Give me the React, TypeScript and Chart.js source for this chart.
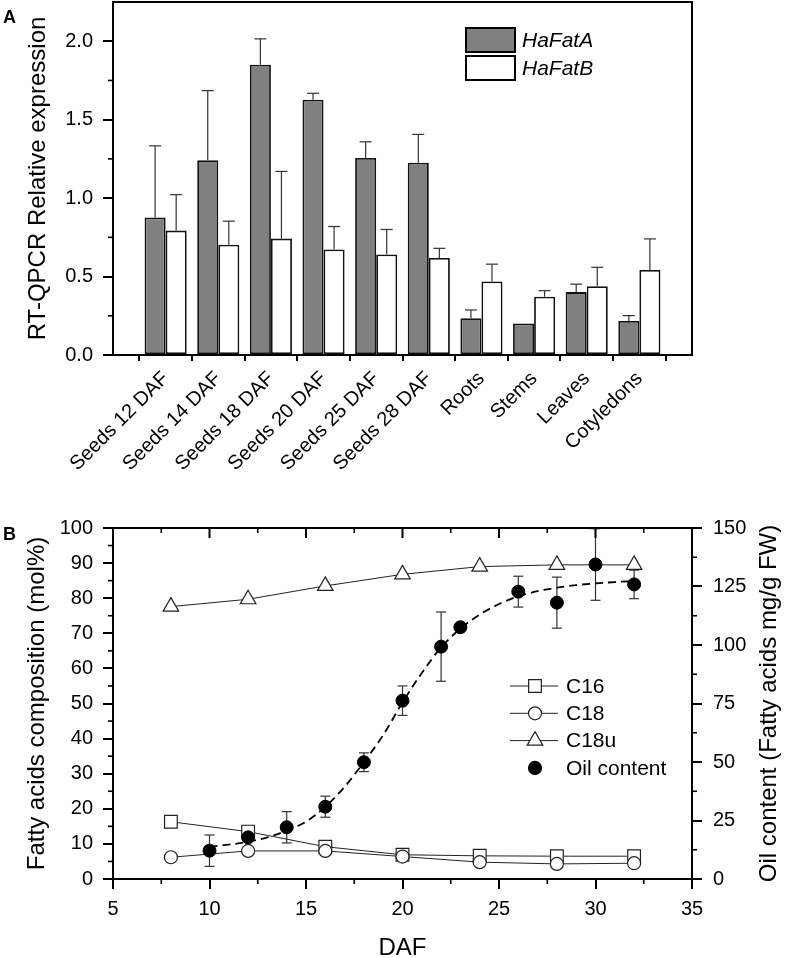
import React, { useEffect, useRef } from "react";
import { Chart, registerables } from "chart.js";
Chart.register(...registerables);

const FONT = '"Liberation Sans", Arial, Helvetica, sans-serif';

// ---------- Panel A data ----------
const tissues = [
  "Seeds 12 DAF", "Seeds 14 DAF", "Seeds 18 DAF", "Seeds 20 DAF", "Seeds 25 DAF",
  "Seeds 28 DAF", "Roots", "Stems", "Leaves", "Cotyledons",
];
const fatA = [0.877, 1.241, 1.85, 1.627, 1.256, 1.226, 0.234, 0.201, 0.401, 0.217];
const fatAErr = [0.456, 0.444, 0.165, 0.041, 0.103, 0.18, 0.053, 0.0, 0.051, 0.034];
const fatB = [0.793, 0.703, 0.742, 0.673, 0.641, 0.619, 0.469, 0.371, 0.439, 0.542];
const fatBErr = [0.229, 0.15, 0.428, 0.146, 0.159, 0.061, 0.11, 0.039, 0.12, 0.198];
const yMinorA = [0.25, 0.75, 1.25, 1.75];

// ---------- Panel B data ----------
const dafFA = [8, 12, 16, 20, 24, 28, 32];
const c16 = [16.3, 13.5, 9.2, 6.9, 6.6, 6.5, 6.5];
const c18 = [6.2, 8.0, 8.0, 6.4, 4.8, 4.3, 4.5];
const c18u = [77.6, 79.7, 83.5, 86.8, 89.0, 89.5, 89.5];
const dafOil = [10, 12, 14, 16, 18, 20, 22, 23, 26, 28, 30, 32];
const oil = [12.1, 17.8, 22.1, 30.9, 49.9, 76.2, 99.3, 107.6, 122.8, 118.1, 134.4, 125.9];
const oilErr = [6.7, 5.0, 6.7, 4.5, 4.0, 6.3, 14.8, 0, 6.6, 10.9, 15.3, 6.1];
const fitX = [10, 11, 12, 13, 14, 15, 16, 17, 18, 19, 20, 21, 22, 23, 24, 25, 26, 27, 28, 29, 30, 31, 32];
const fitY = [13.8, 14.7, 15.9, 17.8, 20.7, 24.5, 30.9, 39.4, 50.0, 61.5, 75.5, 88, 99, 107, 113, 117.5, 120.8, 123, 124.5, 125.6, 126.3, 126.9, 127.3];
const xMajorB = [5, 10, 15, 20, 25, 30, 35];
const xMinorB = [7.5, 12.5, 17.5, 22.5, 27.5, 32.5];
const yMinorB = [5, 15, 25, 35, 45, 55, 65, 75, 85, 95];
const y2MinorB = [12.5, 37.5, 62.5, 87.5, 112.5, 137.5];

function vText(ctx: CanvasRenderingContext2D, text: string, x: number, y: number, font: string) {
  ctx.save();
  ctx.translate(x, y);
  ctx.rotate(-Math.PI / 2);
  ctx.font = font;
  ctx.textAlign = "center";
  ctx.textBaseline = "middle";
  ctx.fillStyle = "#000";
  ctx.fillText(text, 0, 0);
  ctx.restore();
}

function line(ctx: CanvasRenderingContext2D, x1: number, y1: number, x2: number, y2: number) {
  ctx.beginPath();
  ctx.moveTo(x1, y1);
  ctx.lineTo(x2, y2);
  ctx.stroke();
}

function drawMarker(ctx: CanvasRenderingContext2D, style: string, x: number, y: number, r: number, fill: string) {
  ctx.beginPath();
  if (style === "rect") {
    const s = Math.SQRT1_2 * r;
    ctx.rect(x - s, y - s, 2 * s, 2 * s);
  } else if (style === "triangle") {
    let rad = 0;
    ctx.moveTo(x + Math.sin(rad) * r, y - Math.cos(rad) * r);
    rad += (2 * Math.PI) / 3;
    ctx.lineTo(x + Math.sin(rad) * r, y - Math.cos(rad) * r);
    rad += (2 * Math.PI) / 3;
    ctx.lineTo(x + Math.sin(rad) * r, y - Math.cos(rad) * r);
    ctx.closePath();
  } else {
    ctx.arc(x, y, r, 0, Math.PI * 2);
  }
  ctx.fillStyle = fill;
  ctx.fill();
  ctx.stroke();
}

const tickFont = { family: FONT, size: 20 };

const pluginA = {
  id: "panelA",
  afterDatasetsDraw(chart: any) {
    const ctx = chart.ctx as CanvasRenderingContext2D;
    const y = chart.scales.y;
    ctx.save();
    ctx.strokeStyle = "#333";
    ctx.lineWidth = 1.2;
    [fatAErr, fatBErr].forEach((errs, di) => {
      const vals = di === 0 ? fatA : fatB;
      const meta = chart.getDatasetMeta(di);
      errs.forEach((e, i) => {
        if (!e) return;
        const el = meta.data[i + 1];
        const px = el.x;
        const top = y.getPixelForValue(vals[i] + e);
        const base = y.getPixelForValue(vals[i]);
        line(ctx, px, base, px, top);
        line(ctx, px - 6, top, px + 6, top);
      });
    });
    ctx.restore();
  },
  afterDraw(chart: any) {
    const ctx = chart.ctx as CanvasRenderingContext2D;
    const ca = chart.chartArea;
    const y = chart.scales.y;
    ctx.save();
    ctx.strokeStyle = "#000";
    ctx.lineWidth = 2;
    ctx.beginPath();
    ctx.moveTo(ca.left - 1, ca.top);
    ctx.lineTo(ca.right, ca.top);
    ctx.lineTo(ca.right, ca.bottom + 1);
    ctx.stroke();
    ctx.lineWidth = 1.6;
    yMinorA.forEach((v) => {
      const py = y.getPixelForValue(v);
      line(ctx, ca.left, py, ca.left - 5, py);
    });
    // legend
    const items = [
      { label: "HaFatA", fill: "#808080" },
      { label: "HaFatB", fill: "#ffffff" },
    ];
    items.forEach((it, i) => {
      const top = ca.top + 26 + i * 28;
      ctx.fillStyle = it.fill;
      ctx.fillRect(ca.left + 353, top, 49, 24);
      ctx.lineWidth = 2;
      ctx.strokeStyle = "#000";
      ctx.strokeRect(ca.left + 353, top, 49, 24);
      ctx.fillStyle = "#000";
      ctx.font = `italic 21px ${FONT}`;
      ctx.textAlign = "left";
      ctx.textBaseline = "middle";
      ctx.fillText(it.label, ca.left + 409, top + 13);
    });
    // titles
    vText(ctx, "RT-QPCR Relative expression", 38, (ca.top + ca.bottom) / 2, `24px ${FONT}`);
    ctx.font = `bold 18px ${FONT}`;
    ctx.fillStyle = "#000";
    ctx.textAlign = "left";
    ctx.textBaseline = "alphabetic";
    ctx.fillText("A", 3, 23);
    ctx.restore();
  },
};

const pluginB = {
  id: "panelB",
  beforeDatasetsDraw(chart: any) {
    const ctx = chart.ctx as CanvasRenderingContext2D;
    const x = chart.scales.x;
    const y2 = chart.scales.y2;
    ctx.save();
    ctx.strokeStyle = "#333";
    ctx.lineWidth = 1.2;
    dafOil.forEach((d, i) => {
      const e = oilErr[i];
      if (!e) return;
      const px = x.getPixelForValue(d);
      const t = y2.getPixelForValue(Math.min(oil[i] + e, 150));
      const b = y2.getPixelForValue(oil[i] - e);
      line(ctx, px, t, px, b);
      if (oil[i] + e < 150) line(ctx, px - 5, t, px + 5, t);
      line(ctx, px - 5, b, px + 5, b);
    });
    ctx.restore();
  },
  afterDraw(chart: any) {
    const ctx = chart.ctx as CanvasRenderingContext2D;
    const ca = chart.chartArea;
    const x = chart.scales.x;
    const y = chart.scales.y;
    const y2 = chart.scales.y2;
    ctx.save();
    ctx.strokeStyle = "#000";
    ctx.lineWidth = 2;
    line(ctx, ca.left - 1, ca.top, ca.right + 1, ca.top);
    xMajorB.forEach((v) => {
      const px = x.getPixelForValue(v);
      line(ctx, px, ca.top, px, ca.top + 10);
    });
    ctx.lineWidth = 1.6;
    xMinorB.forEach((v) => {
      const px = x.getPixelForValue(v);
      line(ctx, px, ca.top, px, ca.top + 5);
      line(ctx, px, ca.bottom, px, ca.bottom + 5);
    });
    yMinorB.forEach((v) => {
      const py = y.getPixelForValue(v);
      line(ctx, ca.left, py, ca.left - 5, py);
    });
    y2MinorB.forEach((v) => {
      const py = y2.getPixelForValue(v);
      line(ctx, ca.right, py, ca.right + 5, py);
    });
    // legend
    const leg = [
      { label: "C16", style: "rect", r: 9, fill: "#fff", showLine: true },
      { label: "C18", style: "circle", r: 6.5, fill: "#fff", showLine: true },
      { label: "C18u", style: "triangle", r: 9, fill: "#fff", showLine: true },
      { label: "Oil content", style: "circle", r: 6.5, fill: "#000", showLine: false },
    ];
    const lx = 510;
    const ly = ca.top + 158;
    leg.forEach((it, i) => {
      const cy = ly + i * 27.3;
      ctx.strokeStyle = "#222";
      if (it.showLine) {
        ctx.lineWidth = 1;
        line(ctx, lx, cy, lx + 48, cy);
      }
      ctx.lineWidth = 1.2;
      ctx.strokeStyle = it.fill === "#000" ? "#000" : "#222";
      drawMarker(ctx, it.style, lx + 25, cy, it.r, it.fill);
      ctx.fillStyle = "#000";
      ctx.font = `21px ${FONT}`;
      ctx.textAlign = "left";
      ctx.textBaseline = "middle";
      ctx.fillText(it.label, lx + 56, cy + 1);
    });
    // titles
    const cy = (ca.top + ca.bottom) / 2;
    vText(ctx, "Fatty acids composition (mol%)", 37, cy, `24px ${FONT}`);
    vText(ctx, "Oil content (Fatty acids mg/g FW)", 769, cy, `24px ${FONT}`);
    ctx.font = `24px ${FONT}`;
    ctx.fillStyle = "#000";
    ctx.textAlign = "center";
    ctx.textBaseline = "middle";
    ctx.fillText("DAF", (ca.left + ca.right) / 2, 458);
    ctx.font = `bold 18px ${FONT}`;
    ctx.textAlign = "left";
    ctx.textBaseline = "alphabetic";
    ctx.fillText("B", 3, 50);
    ctx.restore();
  },
};

const axisGrid = (len: number) => ({
  display: true,
  drawOnChartArea: false,
  drawTicks: true,
  tickLength: len,
  color: "#000",
  lineWidth: 2,
});
const axisBorder = { display: true, color: "#000", width: 2 };

export default function App() {
  const refA = useRef<HTMLCanvasElement>(null);
  const refB = useRef<HTMLCanvasElement>(null);

  useEffect(() => {
    const labelsA = ["", ...tissues, ""];
    const pad = (arr: number[]) => [null, ...arr, null];
    const chartA = new Chart(refA.current as HTMLCanvasElement, {
      type: "bar",
      data: {
        labels: labelsA,
        datasets: [
          {
            label: "HaFatA",
            data: pad(fatA) as any,
            backgroundColor: "#808080",
            borderColor: "#111",
            borderWidth: 1.8,
            borderSkipped: false,
            categoryPercentage: 0.8,
            barPercentage: 1.0,
          },
          {
            label: "HaFatB",
            data: pad(fatB) as any,
            backgroundColor: "#ffffff",
            borderColor: "#111",
            borderWidth: 1.8,
            borderSkipped: false,
            categoryPercentage: 0.8,
            barPercentage: 1.0,
          },
        ],
      },
      options: {
        responsive: false,
        animation: false,
        layout: { padding: { left: 0, right: 93, top: 2, bottom: 0 } },
        plugins: { legend: { display: false }, tooltip: { enabled: false } },
        scales: {
          x: {
            type: "category",
            offset: false,
            grid: { ...axisGrid(6), offset: true },
            border: axisBorder,
            ticks: {
              autoSkip: false,
              minRotation: 45,
              maxRotation: 45,
              padding: 6,
              color: "#000",
              font: tickFont,
            },
            afterFit: (s: any) => {
              s.height = 135;
              s.paddingLeft = 0;
              s.paddingRight = 0;
            },
          },
          y: {
            min: 0,
            max: 2.25,
            grid: axisGrid(10),
            border: axisBorder,
            ticks: {
              stepSize: 0.5,
              includeBounds: false,
              padding: 10,
              color: "#000",
              font: tickFont,
              callback: (v: any) => Number(v).toFixed(1),
            },
            afterFit: (s: any) => {
              s.width = 113;
              s.paddingTop = 0;
              s.paddingBottom = 0;
            },
          },
        },
      } as any,
      plugins: [pluginA],
    });

    const pts = (xs: number[], ys: number[]) => xs.map((x, i) => ({ x, y: ys[i] }));
    const markerDs = (label: string, ys: number[], style: string, r: number) => ({
      label,
      data: pts(dafFA, ys),
      yAxisID: "y",
      showLine: true,
      borderColor: "#222",
      borderWidth: 1,
      pointStyle: style,
      pointRadius: r,
      pointBackgroundColor: "#fff",
      pointBorderColor: "#222",
      pointBorderWidth: 1.2,
      tension: 0,
    });
    const chartB = new Chart(refB.current as HTMLCanvasElement, {
      type: "line",
      data: {
        datasets: [
          {
            label: "Oil content",
            data: pts(dafOil, oil),
            yAxisID: "y2",
            showLine: false,
            pointStyle: "circle",
            pointRadius: 6.5,
            pointBackgroundColor: "#000",
            pointBorderColor: "#000",
            pointBorderWidth: 1,
          },
          {
            label: "fit",
            data: pts(fitX, fitY),
            yAxisID: "y2",
            showLine: true,
            pointRadius: 0,
            borderColor: "#000",
            borderWidth: 1.8,
            borderDash: [8, 5],
            cubicInterpolationMode: "monotone",
          },
          markerDs("C18", c18, "circle", 6.5),
          markerDs("C16", c16, "rect", 9),
          markerDs("C18u", c18u, "triangle", 9),
        ] as any,
      },
      options: {
        responsive: false,
        animation: false,
        layout: { padding: { left: 0, right: 0, top: 38, bottom: 0 } },
        plugins: { legend: { display: false }, tooltip: { enabled: false } },
        scales: {
          x: {
            type: "linear",
            min: 5,
            max: 35,
            grid: axisGrid(10),
            border: axisBorder,
            ticks: { stepSize: 5, padding: 8, color: "#000", font: tickFont },
            afterFit: (s: any) => {
              s.height = 79;
              s.paddingLeft = 0;
              s.paddingRight = 0;
            },
          },
          y: {
            position: "left",
            min: 0,
            max: 100,
            grid: axisGrid(10),
            border: axisBorder,
            ticks: { stepSize: 10, padding: 10, color: "#000", font: tickFont },
            afterFit: (s: any) => {
              s.width = 113;
              s.paddingTop = 0;
              s.paddingBottom = 0;
            },
          },
          y2: {
            position: "right",
            min: 0,
            max: 150,
            grid: axisGrid(10),
            border: axisBorder,
            ticks: { stepSize: 25, padding: 11, color: "#000", font: tickFont },
            afterFit: (s: any) => {
              s.width = 93;
              s.paddingTop = 0;
              s.paddingBottom = 0;
            },
          },
        },
      } as any,
      plugins: [pluginB],
    });

    return () => {
      chartA.destroy();
      chartB.destroy();
    };
  }, []);

  return (
    <div style={{ position: "absolute", left: 0, top: 0, width: 785, height: 958, background: "#fff" }}>
      <canvas
        ref={refA}
        width={785}
        height={490}
        style={{ position: "absolute", left: 0, top: 0, width: 785, height: 490 }}
      />
      <canvas
        ref={refB}
        width={785}
        height={468}
        style={{ position: "absolute", left: 0, top: 490, width: 785, height: 468 }}
      />
    </div>
  );
}
